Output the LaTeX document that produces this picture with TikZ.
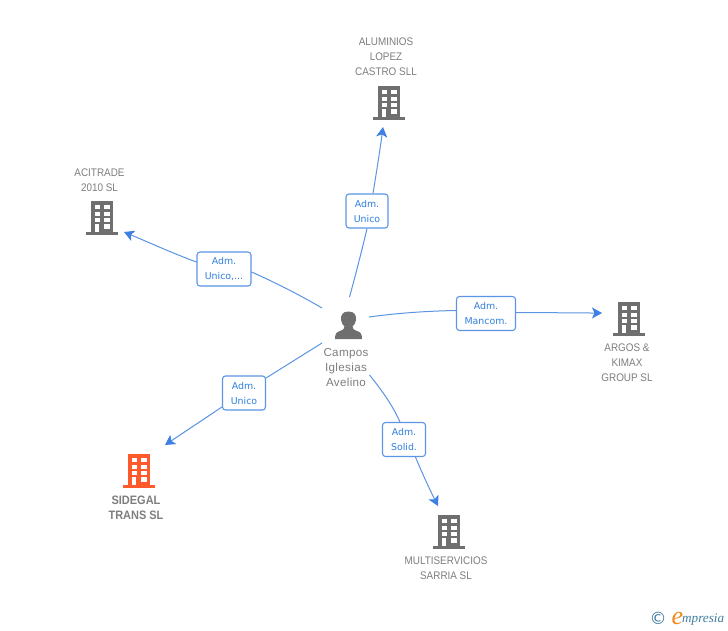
\documentclass[tikz,border=0pt]{standalone}
\usepackage{fontspec}
\setmainfont[FakeStretch=0.9]{Liberation Sans}
\newfontfamily\boxfont{DejaVu Sans}
\newfontfamily\logofont{Liberation Serif}
\newfontfamily\symfont{DejaVu Sans}
\newfontfamily\personfont[LetterSpace=3]{Liberation Sans}
\usetikzlibrary{arrows.meta}
\definecolor{linkblue}{HTML}{5B95E3}
\definecolor{headblue}{HTML}{3F80E4}
\definecolor{boxtext}{HTML}{2F7FE0}
\definecolor{icongrey}{HTML}{6F6F6F}
\definecolor{labelgrey}{HTML}{7E7E7E}
\definecolor{redicon}{HTML}{FF5A2C}
\definecolor{logoteal}{HTML}{3F7F9F}
\definecolor{logoorange}{HTML}{F08A1D}
\tikzset{
  x=1pt,y=-1pt,
  anchorpt/.style={inner sep=0pt,minimum size=0pt},
  rolebox/.style={draw=linkblue,line width=1.1pt,rounded corners=3pt,fill=white,text=boxtext,
    font=\boxfont\fontsize{9.4}{15}\selectfont,align=center,inner sep=0pt},
  link/.style={draw=linkblue,line width=1pt},
  arrowlink/.style={link,-{Stealth[length=10pt,width=11pt,inset=2.5pt,color=headblue]}},
  complabel/.style={text=labelgrey,font=\fontsize{11}{15}\selectfont,align=center,inner sep=0pt},
  boldlabel/.style={text=labelgrey,font=\bfseries\fontsize{12.2}{15}\selectfont,align=center,inner sep=0pt},
  personlabel/.style={text=labelgrey,font=\personfont\fontsize{11.6}{15}\selectfont,align=center,inner sep=0pt},
  pics/building/.style={code={
    \fill[#1] (-11,-34) rectangle (11,-3);
    \fill[#1] (-16,-3) rectangle (16,0);
    \fill[white] (-7.5,-30) rectangle (-2.5,-26);
    \fill[white] (2,-30) rectangle (7.5,-26);
    \fill[white] (-7.5,-23.5) rectangle (-2.5,-19);
    \fill[white] (2,-23.5) rectangle (7.5,-19);
    \fill[white] (-7.5,-17) rectangle (-2.5,-13);
    \fill[white] (2,-17) rectangle (7.5,-13);
    \fill[white] (-7,-10.7) rectangle (-3,-3);
    \fill[white] (2,-11) rectangle (7.5,-6);
  }}
}
\begin{document}
\begin{tikzpicture}
\useasboundingbox (0,0) rectangle (728,630);
\fill[white] (0,0) rectangle (728,630);

% company anchors
\node[anchorpt] (alu) at (389,120) {};
\node[anchorpt] (aci) at (102,235) {};
\node[anchorpt] (arg) at (629,336) {};
\node[anchorpt] (sid) at (139,488) {};
\node[anchorpt] (mul) at (449,549) {};
\pic at (alu) {building=icongrey};
\pic at (aci) {building=icongrey};
\pic at (arg) {building=icongrey};
\pic at (sid) {building=redicon};
\pic at (mul) {building=icongrey};

% person
\node[anchorpt] (per) at (348.5,339) {};
\fill[icongrey] (348.5,311.5) .. controls (342,311.5) and (340.5,316) .. (341,320)
  .. controls (341.4,323) and (343,325) .. (344.5,326.5)
  .. controls (344.6,329) and (343,330) .. (340,331)
  .. controls (336.5,332.2) and (335,333.5) .. (335,339)
  -- (362,339)
  .. controls (362,333.5) and (360.5,332.2) .. (357,331)
  .. controls (354,330) and (352.4,329) .. (352.5,326.5)
  .. controls (354,325) and (355.6,323) .. (356,320)
  .. controls (356.5,316) and (355,311.5) .. (348.5,311.5) -- cycle;

% labels
\node[complabel] (alul) at (386,57) {ALUMINIOS\\LOPEZ\\CASTRO SLL};
\node[complabel] (acil) at (99.5,180) {ACITRADE\\2010 SL};
\node[complabel] (argl) at (627,363) {ARGOS \&\\KIMAX\\GROUP SL};
\node[boldlabel] (sidl) at (136,507.5) {SIDEGAL\\TRANS SL};
\node[complabel] (mull) at (446,568.5) {MULTISERVICIOS\\SARRIA SL};
\node[personlabel] (perl) at (346,367.5) {Campos\\Iglesias\\Avelino};

% connector ends
\coordinate (s1) at (349.5,297);
\coordinate (e1) at (383,127);
\coordinate (s2) at (322,308);
\coordinate (e2) at (124,232);
\coordinate (s3) at (369,317);
\coordinate (e3) at (602,313);
\coordinate (s4) at (369.5,375);
\coordinate (e4) at (438,506);
\coordinate (s5) at (322,343);
\coordinate (e5) at (165,445);

\node[rolebox,minimum width=42pt,minimum height=34pt] (b1) at (367,211) {Adm.\\Unico};
\node[rolebox,minimum width=54pt,minimum height=34pt] (b2) at (224,269) {Adm.\\Unico,...};
\node[rolebox,minimum width=59pt,minimum height=34pt] (b3) at (486,313.5) {Adm.\\Mancom.};
\node[rolebox,minimum width=43pt,minimum height=34pt] (b4) at (404,439.5) {Adm.\\Solid.};
\node[rolebox,minimum width=43pt,minimum height=34pt] (b5) at (244,393) {Adm.\\Unico};

\draw[link] (s1) .. controls (355,277) and (362,250) .. (b1.south);
\draw[arrowlink] ([xshift=6pt]b1.north) .. controls (376,175) and (380,150) .. (e1);
\draw[link] (s2) .. controls (300,295) and (272,281) .. ([yshift=-3pt]b2.east);
\draw[arrowlink] ([yshift=7pt]b2.west) .. controls (172,253) and (148,242) .. (e2);
\draw[link] (s3) .. controls (398,313) and (428,311) .. ([yshift=3pt]b3.west);
\draw[arrowlink] ([yshift=1pt]b3.east) .. controls (545,312.5) and (575,313) .. (e3);
\draw[link] (s4) .. controls (380,388) and (392,404) .. ([xshift=-4pt]b4.north);
\draw[arrowlink] ([xshift=11.5pt]b4.south) .. controls (422,473) and (430,490) .. (e4);
\draw[link] (s5) -- ([yshift=15pt]b5.east);
\draw[arrowlink] ([yshift=-14pt]b5.west) -- (e5);

% logo
\node[anchorpt,text=logoteal,font=\symfont\fontsize{17}{17}\selectfont] (copy) at (658,618.5) {©};
\node[anchorpt,text=logoorange,font=\logofont\itshape\fontsize{26}{26}\selectfont,anchor=base] (logoe) at (677.5,624.5) {e};
\node[anchorpt,text=logoteal,font=\logofont\itshape\fontsize{13.2}{13.2}\selectfont,anchor=base west] (logot) at (682,622.7) {mpresia};
\end{tikzpicture}
\end{document}
